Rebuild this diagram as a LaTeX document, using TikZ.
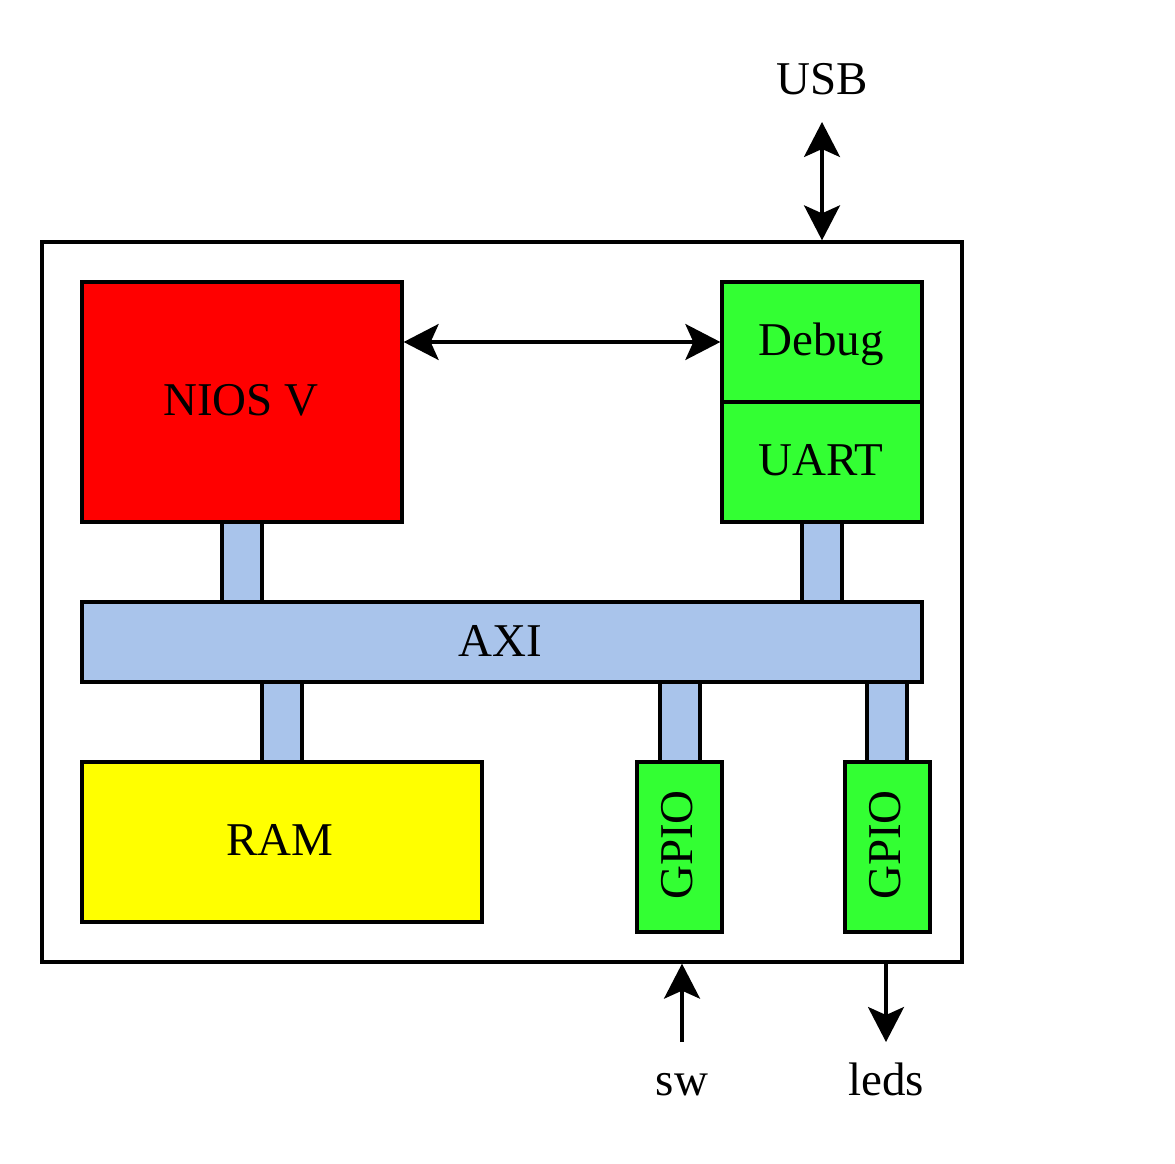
\documentclass[tikz,border=0pt]{standalone}
\usepackage{fontspec}
\setmainfont{Liberation Serif}
\usetikzlibrary{arrows.meta,calc}
\definecolor{niosred}{HTML}{FF0000}
\definecolor{modgreen}{HTML}{33FF33}
\definecolor{ramyellow}{HTML}{FFFF00}
\definecolor{busblue}{HTML}{A9C4EB}
\begin{document}
\begin{tikzpicture}[x=1pt,y=-1pt,
  every node/.style={font=\fontsize{47}{56}\selectfont},
  blockbox/.style={draw=black,line width=3.3pt,rectangle,inner sep=0pt,anchor=center},
  lbl/.style={anchor=base,inner sep=0pt},
  stub/.style={draw=black,fill=busblue,line width=3.3pt},
  bigarrow/.style={line width=3.3pt,-{Stealth[length=35pt,width=36pt,inset=8pt]}},
  bigarrows/.style={line width=3.3pt,{Stealth[length=35pt,width=36pt,inset=8pt]}-{Stealth[length=35pt,width=36pt,inset=8pt]}}
]
\useasboundingbox (0,0) rectangle (1175,1164);
\fill[white] (0,0) rectangle (1175,1164);
% outer box
\node[blockbox,minimum width=920pt,minimum height=720pt] (outer) at (502,602) {};
% stubs (drawn first so blocks cover their ends)
\coordinate (s1) at (242,522); \coordinate (s1b) at (242,602);
\coordinate (s2) at (822,522); \coordinate (s2b) at (822,602);
\coordinate (s3) at (282,682); \coordinate (s3b) at (282,762);
\coordinate (s4) at (680,682); \coordinate (s4b) at (680,762);
\coordinate (s5) at (887,682); \coordinate (s5b) at (887,762);
\draw[stub] ($(s1)+(-20,0)$) rectangle ($(s1b)+(20,0)$);
\draw[stub] ($(s2)+(-20,0)$) rectangle ($(s2b)+(20,0)$);
\draw[stub] ($(s3)+(-20,0)$) rectangle ($(s3b)+(20,0)$);
\draw[stub] ($(s4)+(-20,0)$) rectangle ($(s4b)+(20,0)$);
\draw[stub] ($(s5)+(-20,0)$) rectangle ($(s5b)+(20,0)$);
% blocks
\node[blockbox,fill=niosred,minimum width=320pt,minimum height=240pt] (nios) at (242,402) {};
\node[lbl] (niostext) at (241,415) {NIOS V};
\node[blockbox,fill=modgreen,minimum width=200pt,minimum height=120pt] (debug) at (822,342) {};
\node[lbl] (debugtext) at (821,355) {Debug};
\node[blockbox,fill=modgreen,minimum width=200pt,minimum height=120pt] (uart) at (822,462) {};
\node[lbl] (uarttext) at (821,475) {UART};
\node[blockbox,fill=busblue,minimum width=840pt,minimum height=80pt] (axi) at (502,642) {};
\node[lbl] (axitext) at (500,656) {AXI};
\node[blockbox,fill=ramyellow,minimum width=400pt,minimum height=160pt] (ram) at (282,842) {};
\node[lbl] (ramtext) at (280,855) {RAM};
\node[blockbox,fill=modgreen,minimum width=85pt,minimum height=170pt] (gpioa) at (679.5,847) {};
\node[lbl,rotate=90] (gpioatext) at (692,845) {GPIO};
\node[blockbox,fill=modgreen,minimum width=85pt,minimum height=170pt] (gpiob) at (887.5,847) {};
\node[lbl,rotate=90] (gpiobtext) at (900,845) {GPIO};
% external labels
\node[lbl] (usb) at (822,95) {USB};
\node[lbl] (sw) at (682,1095) {sw};
\node[lbl] (leds) at (886,1095) {leds};
\coordinate (usbend) at (822,122);
\coordinate (swend) at (682,1042);
\coordinate (ledsend) at (886,1042);
% arrows
\draw[bigarrows] (debug.west -| nios.east) -- (debug.west);
\draw[bigarrows] (usbend) -- (outer.north -| usbend);
\draw[bigarrow] (swend) -- (outer.south -| swend);
\draw[bigarrow] (outer.south -| ledsend) -- (ledsend);
\end{tikzpicture}
\end{document}
